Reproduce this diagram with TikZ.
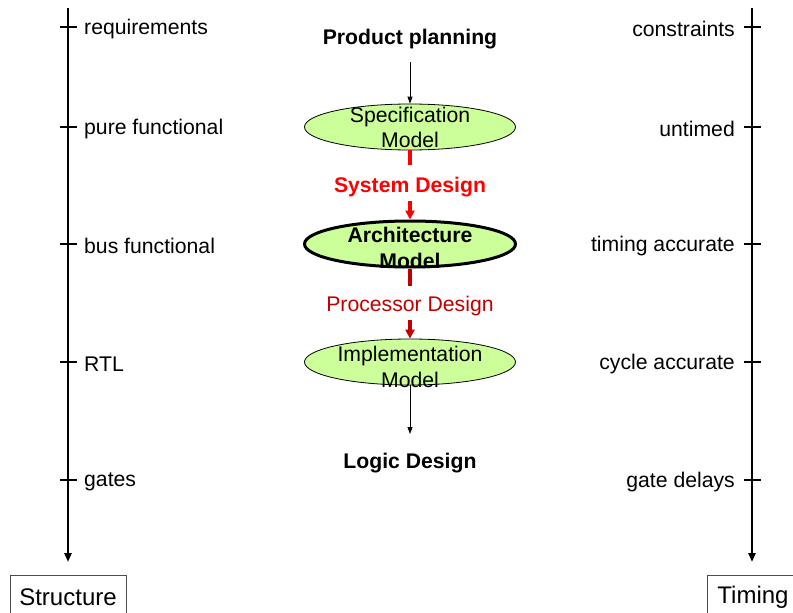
\documentclass[tikz,border=0pt]{standalone}
\usepackage{fontspec}
\setmainfont{Liberation Sans}
\usetikzlibrary{shapes.geometric,arrows.meta}
\definecolor{modelgreen}{HTML}{CCFF99}
\definecolor{darkred}{HTML}{C00000}
\begin{document}
\begin{tikzpicture}[x=1pt,y=-1pt,
  every node/.style={font=\fontsize{21.2}{25.5}\selectfont},
  axis/.style={line width=2.8pt,-{Triangle[length=9pt,width=7pt]}},
  tick/.style={line width=2.6pt},
  model/.style={ellipse,draw=black,line width=0.8pt,fill=modelgreen,
    minimum width=211pt,minimum height=46pt,inner sep=0pt},
  modeltext/.style={align=center,inner sep=0pt},
  flow/.style={line width=0.8pt,-{Triangle[length=7pt,width=5pt]}},
  redflow/.style={line width=3.5pt,red},
  darkflow/.style={line width=3.5pt,darkred},
  axisbox/.style={draw=black!70,line width=0.8pt,minimum height=44pt,inner sep=0pt,
    font=\fontsize{24}{28}\selectfont}
]
\useasboundingbox (0,0) rectangle (793,613);

% structure axis
\coordinate (ls) at (68,8);
\coordinate (le) at (68,562);
\draw[axis] (ls) -- (le);
\foreach \yy/\txt in {27/requirements,127/pure functional,244/bus functional,362/RTL,480/gates}{
  \draw[tick] (60,\yy) -- (77,\yy);
  \node[anchor=west,inner sep=0pt] at (84,\yy+2) {\txt};
}
\node[axisbox,minimum width=116pt] (struct) at (68,597) {Structure};

% timing axis
\coordinate (rs) at (752,8);
\coordinate (re) at (752,562);
\draw[axis] (rs) -- (re);
\foreach \yy/\txt in {27/constraints,127/untimed,244/timing accurate,362/cycle accurate,480/gate delays}{
  \draw[tick] (744,\yy) -- (761,\yy);
  \node[anchor=east,inner sep=0pt] at (735,\yy+2) {\txt};
}
\node[axisbox,minimum width=92pt] (timing) at (753,597) {Timing};

% design flow: model ellipses and step labels
\node[font=\fontsize{21.2}{25.5}\selectfont\bfseries,inner sep=0pt] (plan) at (410,39) {Product planning};
\node[model] (spec) at (410,127) {};
\node[font=\fontsize{21.2}{25.5}\selectfont\bfseries,text=red,inner sep=0pt] (sysd) at (410,187) {System Design};
\node[model,line width=3pt] (arch) at (410,244) {};
\node[text=darkred,inner sep=0pt] (procd) at (410,306) {Processor Design};
\node[model] (impl) at (410,362) {};
\node[font=\fontsize{21.2}{25.5}\selectfont\bfseries,inner sep=0pt] (logic) at (410,463) {Logic Design};

% connectors
\coordinate (c1) at (410,62);
\draw[flow] (c1) -- (spec.north);
\draw[redflow] (spec.south) -- ++(0,15);
\draw[redflow,-{Triangle[length=9pt,width=9pt]}] (410,201) -- (arch.north);
\draw[darkflow] (arch.south) -- ++(0,17);
\draw[darkflow,-{Triangle[length=9pt,width=9pt]}] (410,320) -- (impl.north);
\coordinate (c2) at (410,434);
\draw[flow] (impl.south) -- (c2);

% model names, set over the connectors
\node[modeltext] (spect) at (410,127.5) {Specification\\Model};
\node[modeltext,font=\fontsize{21.2}{25.5}\selectfont\bfseries] (archt) at (410,248) {Architecture\\Model};
\node[modeltext] (implt) at (410,367) {Implementation\\Model};
\end{tikzpicture}
\end{document}
